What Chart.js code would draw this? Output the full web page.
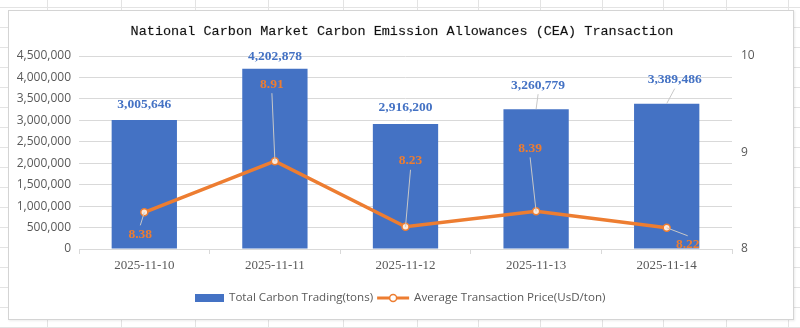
<!DOCTYPE html>
<html>
<head>
<meta charset="utf-8">
<script src="https://cdn.jsdelivr.net/npm/chart.js@4.4.1/dist/chart.umd.min.js"></script>
<style>
  html, body { margin: 0; padding: 0; background: #ffffff; }
  body { width: 800px; height: 328px; position: relative; overflow: hidden; }
  #sheet { position: absolute; left: 0; top: 0; width: 800px; height: 328px; }
  .gl { position: absolute; background: #e3e3e3; }
  #frame {
    position: absolute; left: 8px; top: 10px; width: 784px; height: 308px;
    background: #ffffff; border: 1px solid #d4d4d4;
    box-shadow: 1px 1px 2px rgba(0,0,0,0.08);
  }
  #frame canvas { position: absolute; left: 0; top: 0; }
</style>
</head>
<body>
<div id="sheet"></div>
<div id="frame"><canvas id="c" width="784" height="308"></canvas></div>
<script>
// ---- data ----
const dates = ['2025-11-10', '2025-11-11', '2025-11-12', '2025-11-13', '2025-11-14'];
const volumeTons = [3005646, 4202878, 2916200, 3260779, 3389486];
const avgPrice = [8.38, 8.91, 8.23, 8.39, 8.22];
const leftTicks = [0, 500000, 1000000, 1500000, 2000000, 2500000, 3000000, 3500000, 4000000, 4500000];
const rightTicks = [8, 9, 10];
const titleText = 'National Carbon Market Carbon Emission Allowances (CEA) Transaction';
const volumeName = 'Total Carbon Trading(tons)';
const priceName = 'Average Transaction Price(UsD/ton)';

// ---- spreadsheet cell lines behind the chart ----
const sheet = document.getElementById('sheet');
[47, 121, 195, 268, 343, 417, 478, 540, 602, 663, 726, 788].forEach(x => {
  const d = document.createElement('div');
  d.className = 'gl';
  d.style.cssText = 'left:' + x + 'px;top:0;width:1px;height:328px;';
  sheet.appendChild(d);
});
for (let y = 7; y < 328; y += 20) {
  const d = document.createElement('div');
  d.className = 'gl';
  d.style.cssText = 'left:0;top:' + y + 'px;width:800px;height:1px;';
  sheet.appendChild(d);
}

// ---- styling ----
const BLUE = '#4472C4';
const ORANGE = '#ED7D31';
const AXIS_GREY = '#595959';
const GRID = '#d9d9d9';
const LEADER = '#c8c8c8';

// label placement relative to each mark (px): [dx, dy, leader?]
const volumeLabelPos = [[0, -16, false], [0, -12, false], [0, -16, false], [2, -24, true], [8, -24, true]];
const priceLabelPos = [[-4, 22, true], [-3, -77, true], [5, -66, true], [-6, -63, true], [21, 17, true]];

const fmtInt = v => v.toLocaleString('en-US');

const labelPlugin = {
  id: 'markLabels',
  afterDatasetsDraw(chart) {
    const ctx = chart.ctx;
    ctx.save();
    ctx.textAlign = 'center';
    ctx.textBaseline = 'middle';
    const drawSet = (dsIndex, values, pos, color, fmt) => {
      const meta = chart.getDatasetMeta(dsIndex);
      meta.data.forEach((el, i) => {
        const ax = el.x, ay = el.y;
        const [dx, dy, leader] = pos[i];
        const lx = ax + dx, ly = ay + dy;
        if (leader) {
          // short connector from the mark to the label edge
          const ey = ly + (dy < 0 ? 9 : -9);
          ctx.strokeStyle = LEADER;
          ctx.lineWidth = 1;
          ctx.beginPath();
          ctx.moveTo(ax, ay);
          ctx.lineTo(lx, ey);
          ctx.stroke();
        }
        ctx.fillStyle = color;
        ctx.font = 'bold 13.5px "Liberation Serif", "Times New Roman", serif';
        ctx.fillText(fmt(values[i]), lx, ly);
      });
    };
    drawSet(1, volumeTons, volumeLabelPos, BLUE, fmtInt);
    drawSet(0, avgPrice, priceLabelPos, ORANGE, v => v.toFixed(2));
    ctx.restore();
  }
};

const titleLegendPlugin = {
  id: 'titleLegend',
  afterDraw(chart) {
    const ctx = chart.ctx;
    ctx.save();
    // title
    ctx.fillStyle = '#111111';
    ctx.font = '13.5px "Liberation Mono", "DejaVu Sans Mono", monospace';
    ctx.textAlign = 'center';
    ctx.textBaseline = 'middle';
    ctx.fillText(titleText, 393, 20);
    ctx.strokeStyle = 'rgba(17,17,17,0.35)';
    ctx.lineWidth = 0.4;
    ctx.strokeText(titleText, 393, 20);

    // legend
    const y = 287;
    ctx.font = '11.6px "Open Sans", "Noto Sans", sans-serif';
    ctx.textAlign = 'left';
    let x = 186;
    ctx.fillStyle = BLUE;
    ctx.fillRect(x, y - 4, 29, 8);
    x += 34;
    ctx.fillStyle = AXIS_GREY;
    ctx.fillText(volumeName, x, y);
    x += ctx.measureText(volumeName).width + 4;
    ctx.strokeStyle = ORANGE;
    ctx.lineWidth = 3;
    ctx.beginPath();
    ctx.moveTo(x, y);
    ctx.lineTo(x + 32, y);
    ctx.stroke();
    ctx.beginPath();
    ctx.arc(x + 16, y, 3.5, 0, Math.PI * 2);
    ctx.fillStyle = '#ffffff';
    ctx.fill();
    ctx.lineWidth = 1.5;
    ctx.stroke();
    x += 37;
    ctx.fillStyle = AXIS_GREY;
    ctx.fillText(priceName, x, y);
    ctx.restore();
  }
};

new Chart(document.getElementById('c'), {
  type: 'bar',
  data: {
    labels: dates,
    datasets: [
      {
        type: 'line',
        label: priceName,
        data: avgPrice,
        yAxisID: 'y1',
        borderColor: ORANGE,
        borderWidth: 3.5,
        pointRadius: 3.5,
        pointBackgroundColor: '#fbe9dc',
        pointBorderColor: ORANGE,
        pointBorderWidth: 1.5,
        tension: 0,
        order: 0
      },
      {
        type: 'bar',
        label: volumeName,
        data: volumeTons,
        yAxisID: 'y',
        backgroundColor: BLUE,
        barPercentage: 0.5,
        categoryPercentage: 1.0,
        order: 1
      }
    ]
  },
  options: {
    responsive: false,
    animation: false,
    devicePixelRatio: 1,
    layout: { padding: { top: 45, left: 0, right: 0, bottom: 0 } },
    plugins: {
      legend: { display: false },
      title: { display: false },
      tooltip: { enabled: false }
    },
    scales: {
      x: {
        grid: {
          display: true,
          drawOnChartArea: false,
          drawTicks: true,
          tickLength: 5,
          color: GRID,
          offset: true
        },
        border: { display: true, color: GRID },
        ticks: {
          color: AXIS_GREY,
          padding: 4,
          font: { family: '"Liberation Serif", "Times New Roman", serif', size: 13 }
        },
        afterFit(scale) { scale.height = 70; }
      },
      y: {
        position: 'left',
        min: 0,
        max: 4500000,
        afterBuildTicks(scale) { scale.ticks = leftTicks.map(v => ({ value: v })); },
        grid: { color: GRID, drawTicks: false },
        border: { display: false },
        ticks: {
          color: AXIS_GREY,
          padding: 8,
          font: { family: '"Open Sans", "Noto Sans", sans-serif', size: 12 },
          callback: v => fmtInt(v)
        },
        afterFit(scale) { scale.width = 70; }
      },
      y1: {
        position: 'right',
        min: 8,
        max: 10,
        afterBuildTicks(scale) { scale.ticks = rightTicks.map(v => ({ value: v })); },
        grid: { drawOnChartArea: false, drawTicks: false },
        border: { display: false },
        ticks: {
          color: AXIS_GREY,
          padding: 9,
          font: { family: '"Open Sans", "Noto Sans", sans-serif', size: 12 }
        },
        afterFit(scale) { scale.width = 61; }
      }
    }
  },
  plugins: [labelPlugin, titleLegendPlugin]
});
</script>
</body>
</html>
